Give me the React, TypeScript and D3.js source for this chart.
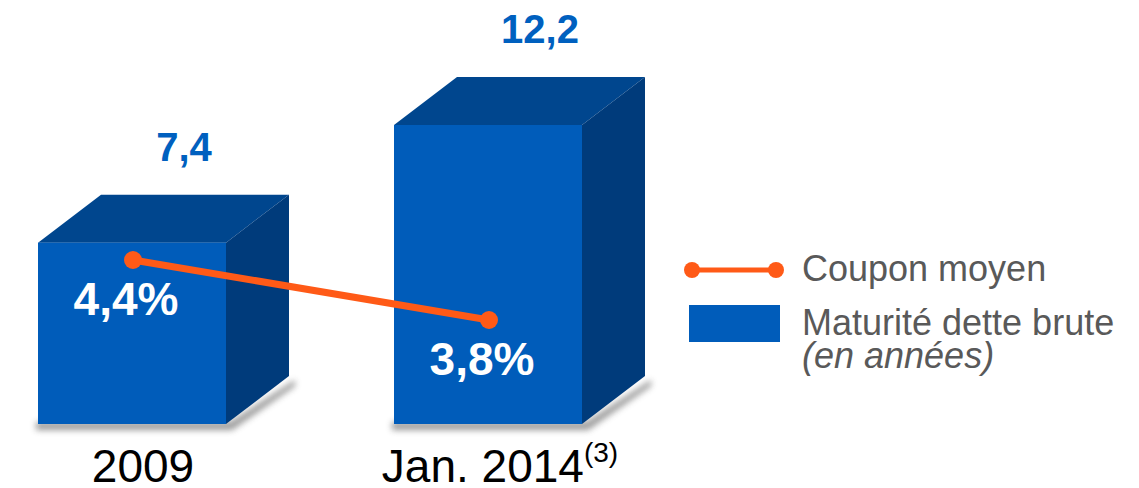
import React from "react";
import * as d3 from "d3";

const categories = ["2009", "Jan. 2014"];
const superscripts = ["", "(3)"];
const maturity = [7.4, 12.2];
const maturityLabels = ["7,4", "12,2"];
const coupon = [4.4, 3.8];
const couponLabels = ["4,4%", "3,8%"];
const legendLine = "Coupon moyen";
const legendBar = "Maturité dette brute";
const legendBarSub = "(en années)";

const W = 1139;
const H = 488;
const FONT = "'Liberation Sans', Arial, sans-serif";
const FRONT = "#005CBA";
const TOP = "#00468E";
const SIDE = "#003B7B";
const ORANGE = "#FF5A17";
const LABEL_BLUE = "#0060BF";
const GREY = "#595959";

export default function App() {
  const x = d3.scaleBand<string>().domain(categories).range([38, 582]).paddingInner(168 / 356).paddingOuter(0);
  const bw = x.bandwidth();
  const y = d3.scaleLinear().domain([0, 12.2]).range([424, 125]);
  const yc = d3.scaleLinear().domain([3.8, 4.4]).range([320, 260]);
  const dx = 63;
  const dy = -48;

  const pts: [number, number][] = categories.map((c, i) => [(x(c) as number) + bw / 2 + 1, yc(coupon[i])]);
  const line = d3.line();

  return (
    <svg width={W} height={H} style={{ position: "absolute", left: 0, top: 0 }}>
      <defs>
        <filter id="blur" x="-20%" y="-50%" width="140%" height="200%">
          <feGaussianBlur stdDeviation="3" />
        </filter>
      </defs>
      <rect width={W} height={H} fill="#fff" />
      {categories.map((c, i) => {
        const x0 = x(c) as number;
        const x1 = x0 + bw;
        const y0 = y(0);
        const yt = y(maturity[i]);
        return (
          <g key={c}>
            <polygon
              points={`${x0 - 2},${y0 - 2} ${x1 + 4},${y0 - 2} ${x1 + dx + 6},${y0 + dy + 4} ${x1 + dx + 6},${y0 + dy + 10} ${x1 + 6},${y0 + 6} ${x0 - 2},${y0 + 6}`}
              fill="#777"
              opacity={0.75}
              filter="url(#blur)"
            />
            <polygon points={`${x0},${yt} ${x0 + dx},${yt + dy} ${x1 + dx},${yt + dy} ${x1},${yt}`} fill={TOP} />
            <polygon points={`${x1},${yt} ${x1 + dx},${yt + dy} ${x1 + dx},${y0 + dy} ${x1},${y0}`} fill={SIDE} />
            <rect x={x0} y={yt} width={bw} height={y0 - yt} fill={FRONT} />
            <text
              x={x0 + bw / 2 + 52}
              y={yt - 82}
              textAnchor="middle"
              fontFamily={FONT}
              fontWeight="bold"
              fontSize={40}
              fill={LABEL_BLUE}
            >
              {maturityLabels[i]}
            </text>
          </g>
        );
      })}
      <path d={line(pts) || ""} stroke={ORANGE} strokeWidth={7} fill="none" />
      {pts.map((p, i) => (
        <g key={i}>
          <circle cx={p[0]} cy={p[1]} r={9} fill={ORANGE} />
          <text
            x={p[0] - 7}
            y={p[1] + 55}
            textAnchor="middle"
            fontFamily={FONT}
            fontWeight="bold"
            fontSize={46}
            fill="#fff"
          >
            {couponLabels[i]}
          </text>
        </g>
      ))}
      {categories.map((c, i) => (
        <text
          key={c}
          x={(x(c) as number) + bw / 2 + (superscripts[i] ? 12 : 11)}
          y={482}
          textAnchor="middle"
          fontFamily={FONT}
          fontSize={46}
          fill="#000"
        >
          {c}
          {superscripts[i] && (
            <tspan fontSize={28} dy={-20}>
              {superscripts[i]}
            </tspan>
          )}
        </text>
      ))}
      <g>
        <line x1={692} x2={776} y1={270} y2={270} stroke={ORANGE} strokeWidth={5} />
        <circle cx={692} cy={270} r={8} fill={ORANGE} />
        <circle cx={776} cy={270} r={8} fill={ORANGE} />
        <text x={802} y={281} fontFamily={FONT} fontSize={36} fill={GREY}>
          {legendLine}
        </text>
        <rect x={689} y={305} width={91} height={37} fill={FRONT} />
        <text x={802} y={335} fontFamily={FONT} fontSize={36} fill={GREY}>
          {legendBar}
        </text>
        <text x={802} y={368} fontFamily={FONT} fontSize={36} fontStyle="italic" fill={GREY}>
          {legendBarSub}
        </text>
      </g>
    </svg>
  );
}
